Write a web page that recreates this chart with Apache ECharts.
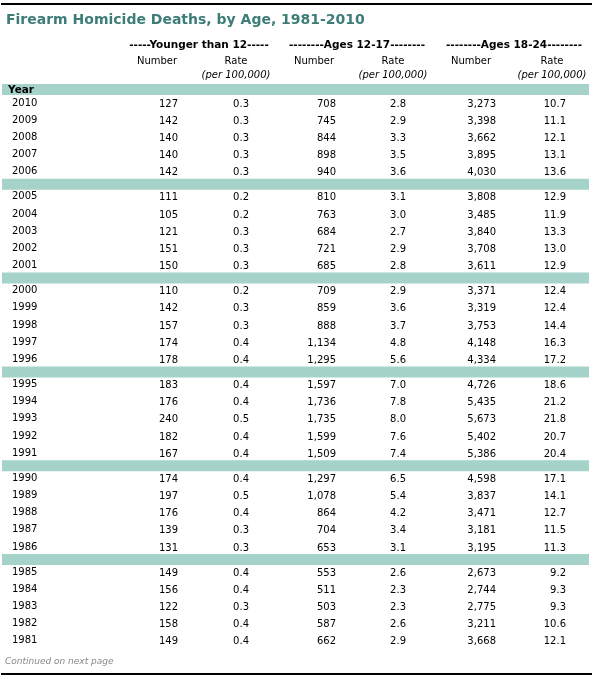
<!DOCTYPE html>
<html><head><meta charset="utf-8">
<script src="https://cdn.jsdelivr.net/npm/echarts@6/dist/echarts.min.js"></script>
<style>html,body{margin:0;padding:0;background:#fff}#c{width:593px;height:679px}</style>
</head><body><div id="c"></div>
<script>
const title = 'Firearm Homicide Deaths, by Age, 1981-2010';
const groups = ['-----Younger than 12-----', '--------Ages 12-17--------', '--------Ages 18-24--------'];
const years = [2010,2009,2008,2007,2006,2005,2004,2003,2002,2001,2000,1999,1998,1997,1996,1995,1994,1993,1992,1991,1990,1989,1988,1987,1986,1985,1984,1983,1982,1981];
const under12Number = ['127','142','140','140','142','111','105','121','151','150','110','142','157','174','178','183','176','240','182','167','174','197','176','139','131','149','156','122','158','149'];
const under12Rate = ['0.3','0.3','0.3','0.3','0.3','0.2','0.2','0.3','0.3','0.3','0.2','0.3','0.3','0.4','0.4','0.4','0.4','0.5','0.4','0.4','0.4','0.5','0.4','0.3','0.3','0.4','0.4','0.3','0.4','0.4'];
const age1217Number = ['708','745','844','898','940','810','763','684','721','685','709','859','888','1,134','1,295','1,597','1,736','1,735','1,599','1,509','1,297','1,078','864','704','653','553','511','503','587','662'];
const age1217Rate = ['2.8','2.9','3.3','3.5','3.6','3.1','3.0','2.7','2.9','2.8','2.9','3.6','3.7','4.8','5.6','7.0','7.8','8.0','7.6','7.4','6.5','5.4','4.2','3.4','3.1','2.6','2.3','2.3','2.6','2.9'];
const age1824Number = ['3,273','3,398','3,662','3,895','4,030','3,808','3,485','3,840','3,708','3,611','3,371','3,319','3,753','4,148','4,334','4,726','5,435','5,673','5,402','5,386','4,598','3,837','3,471','3,181','3,195','2,673','2,744','2,775','3,211','3,668'];
const age1824Rate = ['10.7','11.1','12.1','13.1','13.6','12.9','11.9','13.3','13.0','12.9','12.4','12.4','14.4','16.3','17.2','18.6','21.2','21.8','20.7','20.4','17.1','14.1','12.7','11.5','11.3','9.2','9.3','9.3','10.6','12.1'];
const footnote = 'Continued on next page';

const FONT = 'DejaVu Sans';
const numCols = [under12Number, under12Rate, age1217Number, age1217Rate, age1824Number, age1824Rate];
const colRight = [178, 249, 336, 406, 496, 566];
const hdrNum = [157, 314, 471], hdrRate = [236, 393, 552], grpX = [199, 357, 514];
const rowY = k => { const g = Math.floor(k / 5), i = k % 5; return 103 + g * 93.8 + i * 17.2; };

const texts = [];
texts.push([6, 20, title, 'left', 'title']);
groups.forEach((t, i) => texts.push([grpX[i], 45, t, 'center', 'grp']));
for (let i = 0; i < 3; i++) {
  texts.push([hdrNum[i], 61, 'Number', 'center', 'hdr']);
  texts.push([hdrRate[i], 61, 'Rate', 'center', 'hdr']);
  texts.push([hdrRate[i], 75, '(per 100,000)', 'center', 'it']);
}
texts.push([8, 90, 'Year', 'left', 'yr']);
years.forEach((y, k) => {
  const yy = rowY(k);
  texts.push([12, yy, String(y), 'left', 'cell']);
  numCols.forEach((c, j) => texts.push([colRight[j], yy + 1, c[k], 'right', 'cell']));
});
texts.push([5, 662, footnote, 'left', 'foot']);

const bands = [[84, 95]];
for (let g = 0; g < 5; g++) { const c = rowY(g * 5 + 4) + 12.5; bands.push([c - 5.5, c + 5.5]); }

const styles = {
  title: {fontSize: 14, fontWeight: 'bold', fill: '#3d7d78'},
  grp: {fontSize: 10.5, fontWeight: 'bold', fill: '#000'},
  hdr: {fontSize: 10, fill: '#000'},
  it: {fontSize: 10, fontStyle: 'italic', fill: '#000'},
  yr: {fontSize: 10.5, fontWeight: 'bold', fill: '#000'},
  cell: {fontSize: 10, fill: '#000'},
  foot: {fontSize: 9, fontStyle: 'italic', fill: '#888'}
};

const chart = echarts.init(document.getElementById('c'), null, {renderer: 'canvas'});
chart.setOption({
  animation: false,
  grid: {left: 0, right: 0, top: 0, bottom: 0},
  xAxis: {type: 'value', min: 0, max: 593, show: false},
  yAxis: {type: 'value', min: 0, max: 679, inverse: true, show: false},
  series: [
    {type: 'custom', silent: true, data: bands, z: 1,
      renderItem: (p, api) => {
        const a = api.coord([2, api.value(0)]), b = api.coord([589, api.value(1)]);
        return {type: 'rect', shape: {x: a[0], y: a[1], width: b[0] - a[0], height: b[1] - a[1]}, style: {fill: '#a5d2c9'}};
      }},
    {type: 'custom', silent: true, data: [[4], [674]], z: 1,
      renderItem: (p, api) => {
        const a = api.coord([1, api.value(0)]), b = api.coord([592, api.value(0)]);
        return {type: 'line', shape: {x1: a[0], y1: a[1], x2: b[0], y2: b[1]}, style: {stroke: '#000', lineWidth: 2}};
      }},
    {type: 'custom', silent: true, z: 2,
      data: texts.map(t => ({value: [t[0], t[1]], txt: t[2], align: t[3], st: t[4]})),
      renderItem: (p, api) => {
        const d = texts[p.dataIndex];
        const pt = api.coord([api.value(0), api.value(1)]);
        return {type: 'text', x: pt[0], y: pt[1],
          style: Object.assign({text: d[2], align: d[3], verticalAlign: 'middle', fontFamily: FONT}, styles[d[4]])};
      }}
  ]
});
</script></body></html>
